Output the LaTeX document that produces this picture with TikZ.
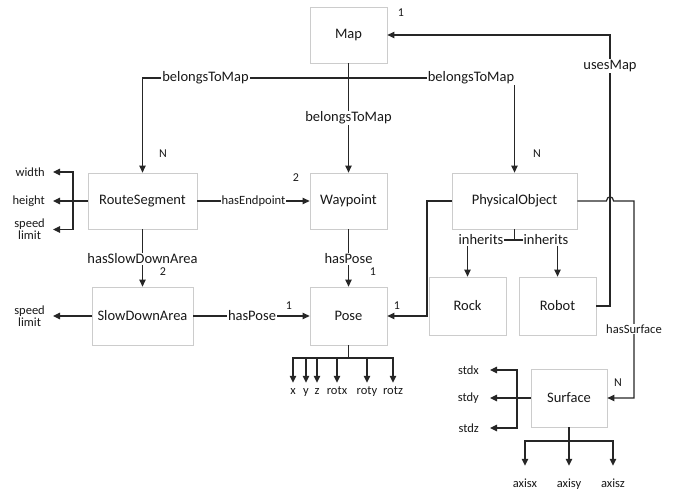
\documentclass[tikz,border=0pt]{standalone}
\usepackage{fontspec}
\setmainfont{Carlito}
\usetikzlibrary{arrows.meta}
\begin{document}
\begin{tikzpicture}[x=1pt,y=-1pt,
  box/.style={draw=gray!40,line width=0.8pt,fill=white,inner sep=0pt,font=\fontsize{14.5}{16}\selectfont,text=black!90},
  elbl/.style={fill=white,inner sep=1pt,font=\fontsize{14.5}{16}\selectfont,text=black!90},
  slbl/.style={fill=white,inner sep=1pt,font=\fontsize{12.6}{14}\selectfont,text=black!90},
  card/.style={inner sep=0pt,font=\fontsize{12}{14}\selectfont,text=black!90},
  attr/.style={inner xsep=0pt,inner ysep=0pt,font=\fontsize{12.5}{14}\selectfont,text=black!90,align=center},
  attrb/.style={inner sep=0pt,text height=8pt,text depth=2.5pt,anchor=base,font=\fontsize{12.5}{14}\selectfont,text=black!90},
  ln/.style={line width=1.2pt,draw=black!85},
  arr/.style={ln,-{Triangle[length=7pt,width=6.5pt]}}]
\useasboundingbox (0,0) rectangle (675,489);
% boxes
\node[box,minimum width=77pt,minimum height=56pt] (Map) at (348.5,35) {Map};
\node[box,minimum width=109pt,minimum height=56pt] (RS) at (142.5,201) {RouteSegment};
\node[box,minimum width=77pt,minimum height=56pt] (WP) at (348.5,201) {Waypoint};
\node[box,minimum width=125pt,minimum height=56pt] (PO) at (514.5,201) {PhysicalObject};
\node[box,minimum width=101pt,minimum height=58pt] (SDA) at (142.5,316) {SlowDownArea};
\node[box,minimum width=77pt,minimum height=58pt] (Pose) at (348.5,316) {Pose};
\node[box,minimum width=77pt,minimum height=58pt] (Rock) at (467.5,306) {Rock};
\node[box,minimum width=77pt,minimum height=58pt] (Robot) at (557.5,306) {Robot};
\node[box,minimum width=76pt,minimum height=58pt] (Surf) at (569,398) {Surface};
% belongsToMap
\coordinate (bj) at (348.5,78);
\draw[arr] (Map.south) -- (WP.north);
\draw[arr] (bj) -| (RS.north);
\draw[arr] (bj) -| (PO.north);
\node[elbl] (b1) at (205.5,78) {belongsToMap};
\node[elbl] (b2) at (471,78) {belongsToMap};
\node[elbl] (b3) at (348.5,118) {belongsToMap};
% usesMap
\coordinate (um) at (610,35);
\draw[arr] (Robot.east) -| (um) -- (Map.east);
\node[elbl] (u1) at (610,66) {usesMap};
% hasSurface with hop
\coordinate (hs) at (634,201);
\draw[arr] (PO.east) -- (606.5,201) .. controls (606.5,195.5) and (613.5,195.5) .. (613.5,201) -- (hs) |- (Surf.east);
\node[slbl] (hsl) at (634,329) {hasSurface};
% hasEndpoint
\draw[arr] (RS.east) -- (WP.west);
\node[slbl] (he) at (253.5,201) {hasEndpoint};
% hasSlowDownArea
\draw[arr] (RS.south) -- (SDA.north);
\node[elbl] (hsda) at (142.5,259) {hasSlowDownArea};
% hasPose
\draw[arr] (WP.south) -- (Pose.north);
\node[elbl] (hp1) at (348.5,259) {hasPose};
\draw[arr] (SDA.east) -- (Pose.west);
\node[elbl] (hp2) at (252,316) {hasPose};
\coordinate (pp) at (427,201);
\draw[arr] (PO.west) -- (pp) |- (Pose.east);
% inherits
\coordinate (ih) at (514.5,240);
\draw[ln] (PO.south) -- (ih);
\draw[arr] (ih) -| (Rock.north);
\draw[arr] (ih) -| (Robot.north);
\node[elbl] (in1) at (481,240) {inherits};
\node[elbl] (in2) at (546,240) {inherits};
% cardinalities
\node[card] (c1) at (401,13) {1};
\node[card] (c2) at (163,154) {N};
\node[card] (c3) at (296,178) {2};
\node[card] (c4) at (537,154) {N};
\node[card] (c5) at (163,272) {2};
\node[card] (c6) at (373,272) {1};
\node[card] (c7) at (289,306) {1};
\node[card] (c8) at (397,306) {1};
\node[card] (c9) at (618,383) {N};
% RouteSegment attributes
\node[attr,anchor=east,inner xsep=8pt] (aw) at (53,172) {width};
\node[attr,anchor=east,inner xsep=8pt] (ah) at (53,201) {height};
\node[attr,anchor=east,inner xsep=8pt] (asl) at (53,229.5) {speed\\[-2pt]limit};
\coordinate (rj) at (73,201);
\draw[arr] (RS.west) -- (ah.east);
\draw[arr] (rj) |- (aw.east);
\draw[arr] (rj) |- (asl.east);
% SlowDownArea attribute
\node[attr,anchor=east,inner xsep=8pt] (asl2) at (53,316) {speed\\[-2pt]limit};
\draw[arr] (SDA.west) -- (asl2.east);
% Pose attributes
\coordinate (pj) at (348.5,358);
\draw[ln] (Pose.south) -- (pj);
\foreach \n/\x/\t in {px/293/x,py/306/y,pz/317/z,prx/337/rotx,pry/367/roty,prz/393/rotz}{
  \node[attrb] (\n) at (\x,394) {\t};
  \draw[arr,shorten >=3pt] (pj) -| (\n.north);
}
% Surface attributes
\coordinate (sv) at (517,398);
\node[attr,anchor=east,inner xsep=11pt] (sx) at (490,370) {stdx};
\node[attr,anchor=east,inner xsep=11pt] (sy) at (490,398) {stdy};
\node[attr,anchor=east,inner xsep=11pt] (sz) at (490,428) {stdz};
\draw[arr] (Surf.west) -- (sy.east);
\draw[arr] (sv) |- (sx.east);
\draw[arr] (sv) |- (sz.east);
\coordinate (sj) at (569,441);
\draw[ln] (Surf.south) -- (sj);
\foreach \n/\x/\t in {ax/525/axisx,ay/569/axisy,az/613/axisz}{
  \node[attrb] (\n) at (\x,487) {\t};
  \draw[arr,shorten >=13pt] (sj) -| (\n.north);
}
\end{tikzpicture}
\end{document}
